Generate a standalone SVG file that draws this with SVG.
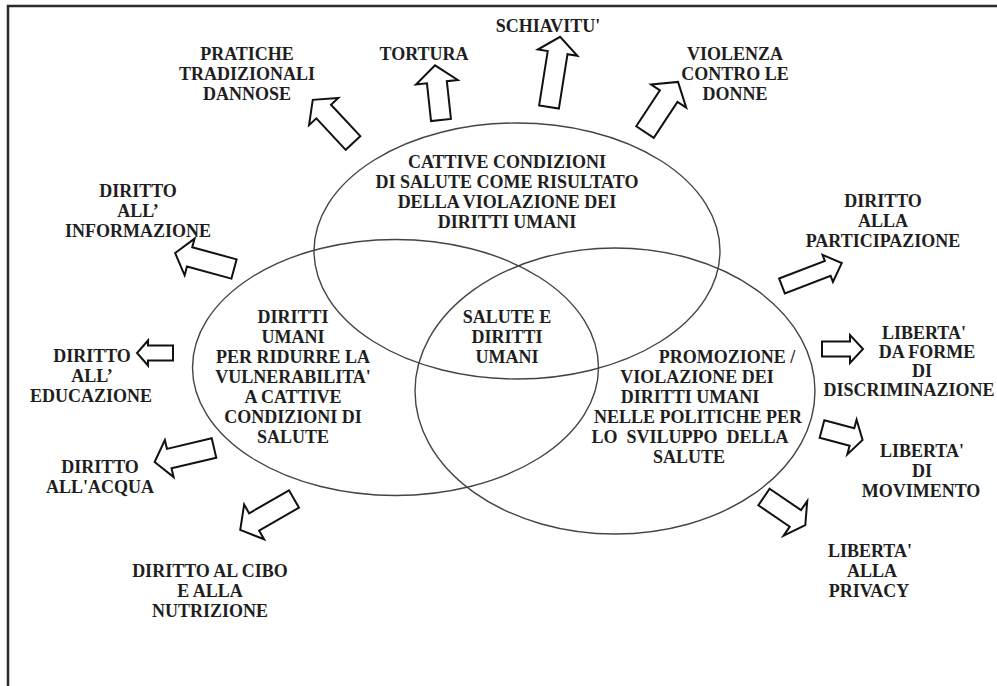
<svg xmlns="http://www.w3.org/2000/svg" width="997" height="686" viewBox="0 0 997 686">
<style>
.bg{fill:#ffffff}
.frame{fill:none;stroke:#2a2a2a;stroke-width:2.5}
.ell{fill:none;stroke:#444;stroke-width:1.4}
.arr{fill:#ffffff;stroke:#111;stroke-width:2;stroke-linejoin:miter}
text{font-family:"Liberation Serif","Times New Roman",serif;font-weight:bold;font-size:18px;fill:#1e1e1e;text-anchor:middle}
</style>
<rect class="bg" x="0" y="0" width="997" height="686"/>
<rect class="frame" x="8" y="6" width="1010" height="700"/>

<g id="circle-violazione">
  <ellipse class="ell" cx="517" cy="251" rx="203" ry="128"/>
  <text x="507" y="168">CATTIVE CONDIZIONI</text>
  <text x="507" y="188">DI SALUTE COME RISULTATO</text>
  <text x="507" y="208">DELLA VIOLAZIONE DEI</text>
  <text x="507" y="228">DIRITTI UMANI</text>
</g>
<g id="circle-vulnerabilita">
  <ellipse class="ell" cx="395.5" cy="367.5" rx="203" ry="128"/>
  <text x="293" y="323">DIRITTI</text>
  <text x="293" y="343">UMANI</text>
  <text x="293" y="363">PER RIDURRE LA</text>
  <text x="293" y="383">VULNERABILITA'</text>
  <text x="293" y="403">A CATTIVE</text>
  <text x="293" y="423">CONDIZIONI DI</text>
  <text x="293" y="443">SALUTE</text>
</g>
<g id="circle-promozione">
  <ellipse class="ell" cx="615" cy="391" rx="200" ry="143"/>
  <text x="727" y="363">PROMOZIONE /</text>
  <text x="697" y="383">VIOLAZIONE DEI</text>
  <text x="690" y="403">DIRITTI UMANI</text>
  <text x="698" y="423">NELLE POLITICHE PER</text>
  <text x="690" y="443">LO&#160; SVILUPPO&#160; DELLA</text>
  <text x="689" y="463">SALUTE</text>
</g>
<g id="centro">
  <text x="507" y="323">SALUTE E</text>
  <text x="507" y="343">DIRITTI</text>
  <text x="507" y="363">UMANI</text>
</g>

<g id="pratiche"><text x="247" y="60">PRATICHE</text><text x="247" y="80">TRADIZIONALI</text><text x="247" y="100">DANNOSE</text></g>
<g id="tortura"><text x="424" y="60">TORTURA</text></g>
<g id="schiavitu"><text x="548" y="32">SCHIAVITU'</text></g>
<g id="violenza"><text x="735" y="60">VIOLENZA</text><text x="735" y="80">CONTRO LE</text><text x="735" y="100">DONNE</text></g>
<g id="informazione"><text x="138" y="197">DIRITTO</text><text x="138" y="217">ALL’</text><text x="138" y="237">INFORMAZIONE</text></g>
<g id="educazione"><text x="92" y="362">DIRITTO</text><text x="92" y="382">ALL’</text><text x="91" y="402">EDUCAZIONE</text></g>
<g id="acqua"><text x="100" y="473">DIRITTO</text><text x="100" y="493">ALL'ACQUA</text></g>
<g id="cibo"><text x="210" y="577">DIRITTO AL CIBO</text><text x="210" y="597">E ALLA</text><text x="210" y="617">NUTRIZIONE</text></g>
<g id="partecipazione"><text x="883" y="207">DIRITTO</text><text x="883" y="227">ALLA</text><text x="883" y="247">PARTICIPAZIONE</text></g>
<g id="discriminazione"><text x="924" y="339">LIBERTA'</text><text x="927" y="358">DA FORME</text><text x="922" y="377">DI</text><text x="909" y="396">DISCRIMINAZIONE</text></g>
<g id="movimento"><text x="922" y="457">LIBERTA'</text><text x="922" y="477">DI</text><text x="921" y="497">MOVIMENTO</text></g>
<g id="privacy"><text x="870" y="557">LIBERTA'</text><text x="872" y="577">ALLA</text><text x="869" y="597">PRIVACY</text></g>

<g id="connectors">
  <polygon class="arr" transform="translate(353,143) rotate(-133)" points="0,-10 43,-10 43,-20 59,0 43,20 43,10 0,10"/>
  <polygon class="arr" transform="translate(441,120) rotate(-96.2)" points="0,-10 38,-10 38,-21 55,0 38,21 38,10 0,10"/>
  <polygon class="arr" transform="translate(549,107) rotate(-81)" points="0,-10 55,-10 55,-20 71,0 55,20 55,10 0,10"/>
  <polygon class="arr" transform="translate(645,132) rotate(-56.6)" points="0,-10.5 43,-10.5 43,-21 60,0 43,21 43,10.5 0,10.5"/>
  <polygon class="arr" transform="translate(234,269) rotate(-164.8)" points="0,-10 46,-10 46,-19 61,0 46,19 46,10 0,10"/>
  <polygon class="arr" transform="translate(173,353) rotate(180)" points="0,-7.5 25,-7.5 25,-12.5 36,0 25,12.5 25,7.5 0,7.5"/>
  <polygon class="arr" transform="translate(214,448) rotate(166.7)" points="0,-10 46,-10 46,-19 61,0 46,19 46,10 0,10"/>
  <polygon class="arr" transform="translate(294,499) rotate(150.1)" points="0,-10 46,-10 46,-20 62,0 46,20 46,10 0,10"/>
  <polygon class="arr" transform="translate(782,286) rotate(-21)" points="0,-8 49,-8 49,-14.5 64,0 49,14.5 49,8 0,8"/>
  <polygon class="arr" transform="translate(822,349) rotate(0)" points="0,-7.5 28,-7.5 28,-14 41,0 28,14 28,7.5 0,7.5"/>
  <polygon class="arr" transform="translate(822,429) rotate(15)" points="0,-9 31,-9 31,-18 42,0 31,18 31,9 0,9"/>
  <polygon class="arr" transform="translate(764,497) rotate(34.3)" points="0,-10 38,-10 38,-21 50,0 38,21 38,10 0,10"/>
</g>
</svg>
